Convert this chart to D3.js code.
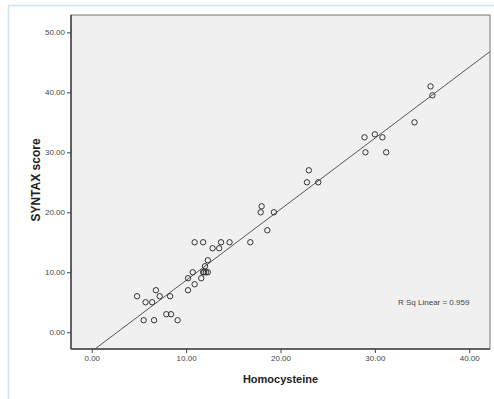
<!DOCTYPE html>
<html><head><meta charset="utf-8">
<script src="https://cdn.jsdelivr.net/npm/d3@7"></script>
<style>body{margin:0;background:#fff}svg{display:block}text{font-family:"Liberation Sans",Arial,sans-serif}</style>
</head><body>
<script>
// Homocysteine (x) values
const homocysteine = [4.8,5.7,6.4,6.8,7.2,8.3,5.5,6.6,7.9,8.4,9.1,10.2,10.2,10.7,10.9,10.9,11.8,11.6,11.8,11.9,12.1,12.3,12.0,12.3,12.8,13.5,13.7,14.6,16.8,18.0,17.9,19.3,18.6,23.0,22.8,24.0,28.9,29.0,30.0,30.8,31.2,34.2,35.9,36.1];
// SYNTAX score (y) values
const syntax = [6,5,5,7,6,6,2,2,3,3,2,7,9,10,8,15,15,9,10,10,10,10,11,12,14,14,15,15,15,21,20,20,17,27,25,25,32.5,30,33,32.5,30,35,41,39.5];
const xTicks = [0,10,20,30,40];
const yTicks = [0,10,20,30,40,50];
const fitLine = {intercept: -3.2, slope: 1.185};
const rSqLabel = "R Sq Linear = 0.959";
const xTitle = "Homocysteine", yTitle = "SYNTAX score";

const W = 494, H = 399;
const svg = d3.select("body").append("svg").attr("width", W).attr("height", H);
// outer frame
svg.append("rect").attr("x", 8.5).attr("y", 5.5).attr("width", W).attr("height", H)
  .attr("fill", "#fff").attr("stroke", "#c9e4f6").attr("stroke-width", 1.5);

const L = 71, R = 490, T = 15, B = 349;
const x = d3.scaleLinear().domain([-2.2, 42.2]).range([L, R]);
const y = d3.scaleLinear().domain([-2.8, 52.9]).range([B, T]);

svg.append("rect").attr("x", L).attr("y", T).attr("width", R - L).attr("height", B - T)
  .attr("fill", "#f0f0f0").attr("stroke", "#777").attr("stroke-width", 1);

const clip = svg.append("clipPath").attr("id", "c").append("rect")
  .attr("x", L).attr("y", T).attr("width", R - L).attr("height", B - T);

// fit line
const x0 = x.domain()[0], x1 = x.domain()[1];
svg.append("line").attr("clip-path", "url(#c)")
  .attr("x1", x(x0)).attr("y1", y(fitLine.intercept + fitLine.slope * x0))
  .attr("x2", x(x1)).attr("y2", y(fitLine.intercept + fitLine.slope * x1))
  .attr("stroke", "#555").attr("stroke-width", 1);

// points
svg.append("g").selectAll("circle").data(homocysteine).join("circle")
  .attr("cx", (d) => x(d)).attr("cy", (d, i) => y(syntax[i])).attr("r", 2.7)
  .attr("fill", "none").attr("stroke", "#333").attr("stroke-width", 1);

// axes
const fmt = d3.format(".2f");
const gx = svg.append("g").attr("transform", `translate(0,${B})`)
  .call(d3.axisBottom(x).tickValues(xTicks).tickFormat(fmt).tickSize(4).tickPadding(2));
const gy = svg.append("g").attr("transform", `translate(${L},0)`)
  .call(d3.axisLeft(y).tickValues(yTicks).tickFormat(fmt).tickSize(4).tickPadding(2));
[gx, gy].forEach(g => {
  g.select(".domain").remove();
  g.selectAll("line").attr("stroke", "#444");
  g.selectAll("text").attr("font-size", 8).attr("fill", "#444").attr("font-family", '"Liberation Sans",Arial,sans-serif');
});
svg.append("line").attr("x1", L).attr("x2", L).attr("y1", T).attr("y2", B).attr("stroke", "#444").attr("stroke-width", 1.5);
svg.append("line").attr("x1", L).attr("x2", R).attr("y1", B).attr("y2", B).attr("stroke", "#444").attr("stroke-width", 1.5);

svg.append("text").attr("x", (L + R) / 2).attr("y", 383).attr("text-anchor", "middle")
  .attr("font-size", 11).attr("font-weight", "bold").attr("fill", "#222").text(xTitle);
svg.append("text").attr("transform", `translate(40,180) rotate(-90)`).attr("text-anchor", "middle")
  .attr("font-size", 12).attr("font-weight", "bold").attr("fill", "#222").text(yTitle);

svg.append("text").attr("x", 398).attr("y", 304.5).attr("font-size", 8).attr("fill", "#444").text(rSqLabel);
</script>
</body></html>
